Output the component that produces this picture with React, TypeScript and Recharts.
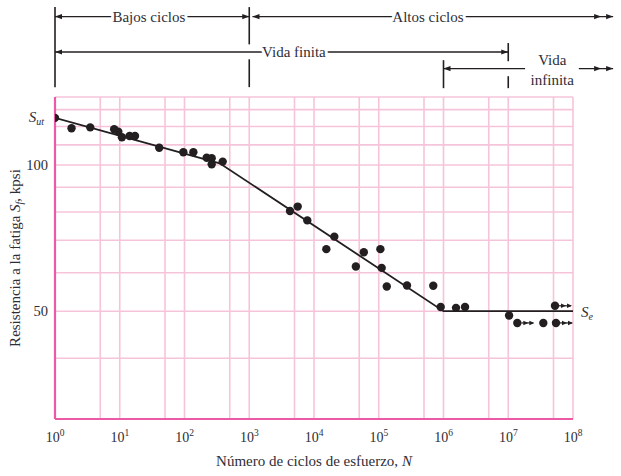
import React from 'react';
import {
  ComposedChart, Scatter, Line, XAxis, YAxis, CartesianGrid, ReferenceLine, ReferenceDot,
} from 'recharts';

// ensayos: número de ciclos N y resistencia Sf (kpsi)
const cyclesN = [
  1, 1.8, 3.5, 8.2, 9.5, 10.8, 14.2, 17.2, 40.7, 96, 137, 220, 263, 263, 389,
  4260, 5600, 7880, 20600, 15500, 58800, 44300, 106000, 111000, 133000, 273000, 695000,
  905000, 1.56e6, 2.15e6, 1.03e7, 1.38e7, 3.48e7, 5.46e7, 5.27e7,
];
const strengthS = [
  125, 119.0, 119.5, 118.4, 117.1, 114.0, 114.7, 114.7, 108.5, 106.2, 106.2, 103.5, 103.2, 100.3, 101.6,
  80.4, 82.1, 76.9, 71.2, 67.1, 66.1, 61.8, 67.1, 61.4, 56.2, 56.5, 56.4,
  51.0, 50.8, 51.0, 49.0, 47.3, 47.3, 47.3, 51.3,
];
// probetas que no fallaron (flecha)
const runoutIdx = [31, 33, 34];

// curva S-N ajustada
const curveN = [1, 350, 1e6, 1e8];
const curveS = [125, 100.8, 50, 50];

const SUT = 125;
const SE = 50;

const xTicks = [1, 5, 10, 50, 100, 500, 1e3, 5e3, 1e4, 5e4, 1e5, 5e5, 1e6, 5e6, 1e7, 5e7, 1e8];
const yTicks = [30, 40, 50, 60, 70, 80, 90, 100, 110, 120, 130, 138];
const yLabels = [50, 100];

// rótulos de la parte superior (N y kpsi por encima del área del gráfico)
const arrows = [
  { text: 'Bajos ciclos', n1: 1, n2: 1e3, s: 202, tn: 10 ** 1.45, start: 1, end: 1 },
  { text: 'Altos ciclos', n1: 10 ** 3.05, n2: 10 ** 8.62, s: 202, tn: 10 ** 5.76, start: 1, end: 2 },
  { text: 'Vida finita', n1: 1, n2: 1e7, s: 170.8, tn: 10 ** 3.69, start: 1, end: 1 },
  { text: '', n1: 1e6, n2: 10 ** 7.26, s: 157.9, tn: 1, start: 1, end: 0 },
  { text: '', n1: 10 ** 8.09, n2: 10 ** 8.62, s: 157.9, tn: 1, start: 0, end: 2 },
];
const brackets = [
  { n: 1, s1: 211.3, s2: 144.6 },
  { n: 1e3, s1: 211.3, s2: 177.1 },
  { n: 1e3, s1: 165, s2: 144.6 },
  { n: 1e6, s1: 164.3, s2: 143.9 },
  { n: 1e7, s1: 178.2, s2: 163.5 },
  { n: 1e7, s1: 152.3, s2: 143.9 },
];
const notes = [
  { text: 'Vida', n: 10 ** 7.68, s: 160.4 },
  { text: 'infinita', n: 10 ** 7.68, s: 146.4 },
];

const INK = '#231f20';
const TEXT = '#2e2e38';
const GRID = '#f6c4da';
const AXIS = '#ec5aa5';
const FONT = "'Liberation Serif', 'DejaVu Serif', serif";

const points = cyclesN.map((n, i) => ({ n, s: strengthS[i], runout: runoutIdx.includes(i) }));
const curve = curveN.map((n, i) => ({ n, s: curveS[i] }));

const head = (tip: number, y: number, dir: number, len: number, w: number, key: string) => (
  <polygon key={key} points={`${tip},${y} ${tip - dir * len},${y - w} ${tip - dir * len},${y + w}`} fill={INK} />
);

const TestDot = (p: any) => {
  const { cx, cy, payload } = p;
  return (
    <g>
      <circle cx={cx} cy={cy} r={4.2} fill={INK} />
      {payload.runout && (
        <g>
          <line x1={cx + 4} y1={cy} x2={cx + 16} y2={cy} stroke={INK} strokeWidth={1.2} />
          {head(cx + 11, cy, 1, 5, 2.3, 'a')}
          {head(cx + 17, cy, 1, 5, 2.3, 'b')}
        </g>
      )}
    </g>
  );
};

const XTick = (p: any) => {
  const v = p.payload.value;
  const e = Math.log10(v);
  if (Math.abs(e - Math.round(e)) > 1e-6) return <g />;
  return (
    <text x={p.x} y={p.y + 15} textAnchor="middle" fontFamily={FONT} fontSize={14} fill={TEXT}>
      10<tspan dy={-6} fontSize={9.5}>{Math.round(e)}</tspan>
    </text>
  );
};

const YTick = (p: any) => {
  const v = p.payload.value;
  if (!yLabels.includes(v)) return <g />;
  return (
    <text x={p.x + 1} y={p.y + 5} textAnchor="end" fontFamily={FONT} fontSize={14.5} fill={TEXT}>
      {v}
    </text>
  );
};

const XTitle = (p: any) => {
  const { x, y, width, height } = p.viewBox;
  return (
    <text x={x + width / 2} y={y + height + 17} textAnchor="middle" fontFamily={FONT} fontSize={15} fill={TEXT}>
      Número de ciclos de esfuerzo, <tspan fontStyle="italic">N</tspan>
    </text>
  );
};

const YTitle = (p: any) => {
  const { x, y, height } = p.viewBox;
  const cx = x + 14.5;
  const cy = y + height / 2;
  return (
    <text x={cx} y={cy} transform={`rotate(-90 ${cx} ${cy})`} textAnchor="middle" fontFamily={FONT} fontSize={15} fill={TEXT}>
      Resistencia a la fatiga <tspan fontStyle="italic">S</tspan>
      <tspan fontStyle="italic" fontSize={10} dy={3}>f</tspan>
      <tspan dy={-3}>, kpsi</tspan>
    </text>
  );
};

const arrowShape = (a: typeof arrows[number]) => (p: any) => {
  const { x1, y1, x2 } = p;
  const heads: React.ReactNode[] = [];
  for (let k = 0; k < a.start; k++) heads.push(head(x1 + k * 12, y1, -1, 7, 2.6, 's' + k));
  for (let k = 0; k < a.end; k++) heads.push(head(x2 - k * 12, y1, 1, 7, 2.6, 'e' + k));
  let label = null;
  if (a.text) {
    const t = (Math.log10(a.tn) - Math.log10(a.n1)) / (Math.log10(a.n2) - Math.log10(a.n1));
    label = (
      <text x={x1 + t * (x2 - x1)} y={y1 + 5} textAnchor="middle" fontFamily={FONT} fontSize={15}
        fill={TEXT} stroke="#fff" strokeWidth={6} paintOrder="stroke">
        {a.text}
      </text>
    );
  }
  return (
    <g>
      <line x1={x1} y1={y1} x2={x2} y2={y1} stroke={INK} strokeWidth={1.3} />
      {heads}
      {label}
    </g>
  );
};

export default function App() {
  return (
    <div style={{ position: 'absolute', left: 0, top: 0, width: 621, height: 476, background: '#fff' }}>
      <ComposedChart width={621} height={476} margin={{ top: 97, right: 48, left: 5, bottom: 27 }}>
        <CartesianGrid stroke={GRID} strokeWidth={1.6} />
        <XAxis
          type="number" dataKey="n" scale="log" domain={[1, 1e8]} allowDataOverflow
          ticks={xTicks} interval={0} height={30}
          axisLine={{ stroke: AXIS, strokeWidth: 2.2 }} tickLine={false}
          tick={<XTick />} label={(p: any) => <XTitle {...p} />}
        />
        <YAxis
          type="number" dataKey="s" scale="log" domain={[30, 138]} allowDataOverflow
          ticks={yTicks} interval={0} width={50}
          axisLine={{ stroke: AXIS, strokeWidth: 2.2 }} tickLine={false}
          tick={<YTick />} label={(p: any) => <YTitle {...p} />}
        />

        {brackets.map((b, i) => (
          <ReferenceLine key={'b' + i} ifOverflow="visible" stroke={INK} strokeWidth={1.6}
            segment={[{ x: b.n, y: b.s1 }, { x: b.n, y: b.s2 }]} />
        ))}
        {arrows.map((a, i) => (
          <ReferenceLine key={'a' + i} ifOverflow="visible"
            segment={[{ x: a.n1, y: a.s }, { x: a.n2, y: a.s }]} shape={arrowShape(a)} />
        ))}
        {notes.map((t, i) => (
          <ReferenceDot key={'t' + i} x={t.n} y={t.s} r={0} ifOverflow="visible"
            shape={(p: any) => (
              <text x={p.cx} y={p.cy} textAnchor="middle" fontFamily={FONT} fontSize={15} fill={TEXT}>{t.text}</text>
            )} />
        ))}

        <Line data={curve} dataKey="s" stroke={INK} strokeWidth={1.8} dot={false} isAnimationActive={false} />
        <Scatter data={points} dataKey="s" shape={<TestDot />} isAnimationActive={false} />

        <ReferenceDot x={1} y={SUT} r={0} ifOverflow="visible"
          shape={(p: any) => (
            <text x={p.cx - 11} y={p.cy + 4} textAnchor="end" fontFamily={FONT} fontSize={15} fill={TEXT} fontStyle="italic">
              S<tspan fontSize={10} dy={3}>ut</tspan>
            </text>
          )} />
        <ReferenceDot x={1e8} y={SE} r={0} ifOverflow="visible"
          shape={(p: any) => (
            <text x={p.cx + 8} y={p.cy + 6} fontFamily={FONT} fontSize={15} fill={TEXT} fontStyle="italic">
              S<tspan fontSize={10} dy={3}>e</tspan>
            </text>
          )} />
      </ComposedChart>
    </div>
  );
}
